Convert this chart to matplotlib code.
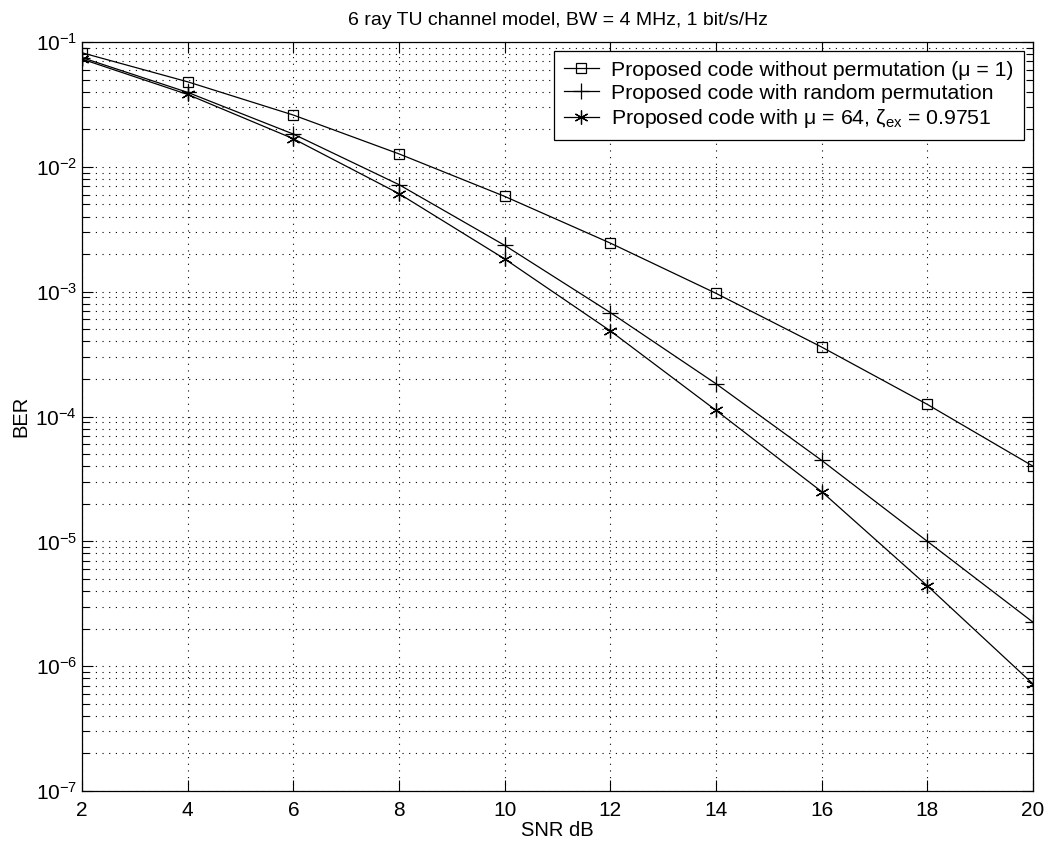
import matplotlib
matplotlib.use('Agg')
import matplotlib.pyplot as plt
from matplotlib.ticker import LogLocator, NullFormatter

plt.rcParams['font.family'] = ['Liberation Sans', 'DejaVu Sans']
plt.rcParams['mathtext.fontset'] = 'custom'
plt.rcParams['mathtext.rm'] = 'Liberation Sans'
plt.rcParams['mathtext.it'] = 'Liberation Sans:italic'

snr = [2, 4, 6, 8, 10, 12, 14, 16, 18, 20]
ber_no_perm = [0.082, 0.048, 0.026, 0.0127, 0.0058, 0.00245, 0.00097, 3.6e-4, 1.25e-4, 4.0e-5]
ber_random = [0.075, 0.0395, 0.0183, 0.0072, 0.00235, 6.8e-4, 1.83e-4, 4.45e-5, 1.0e-5, 2.25e-6]
ber_mu64 = [0.073, 0.038, 0.0168, 0.0061, 0.00183, 4.85e-4, 1.12e-4, 2.5e-5, 4.4e-6, 7.2e-7]
y_ticks = [1e-7, 1e-6, 1e-5, 1e-4, 1e-3, 1e-2, 1e-1]
y_ticklabels = ['$10^{-7}$', '$10^{-6}$', '$10^{-5}$', '$10^{-4}$',
                '$10^{-3}$', '$10^{-2}$', '$10^{-1}$']

labels = ['Proposed code without permutation (μ = 1)',
          'Proposed code with random permutation',
          'Proposed code with μ = 64, ζ$_{\\mathrm{ex}}$ = 0.9751']

fig = plt.figure(figsize=(10.49, 8.56), dpi=100)
ax = fig.add_axes([0.0782, 0.0759, 0.9066, 0.875])

ax.semilogy(snr, ber_no_perm, color='black', lw=0.9, marker='s', ms=7.5,
            mfc='none', mec='black', mew=0.9, label=labels[0])
ax.semilogy(snr, ber_random, color='black', lw=0.9, marker='+', ms=11,
            mew=0.9, label=labels[1])
ax.semilogy(snr, ber_mu64, color='black', lw=0.9, marker=(6, 2, 0), ms=10,
            mew=0.9, label=labels[2])

ax.set_xlim(2, 20)
ax.set_ylim(1e-7, 1e-1)
ax.set_xticks(snr)
ax.set_yticks(y_ticks)
ax.set_yticklabels(y_ticklabels)
ax.yaxis.set_minor_locator(LogLocator(base=10, subs=range(2, 10), numticks=100))
ax.yaxis.set_minor_formatter(NullFormatter())

ax.grid(True, which='major', color='black', linestyle=(0, (1, 5)), lw=0.8)
ax.grid(True, which='minor', axis='y', color='black', linestyle=(0, (1, 5)), lw=0.8)

ax.tick_params(which='both', direction='in', top=True, right=True, labelsize=15)
ax.tick_params(axis='x', pad=7)
ax.tick_params(which='major', length=8, width=0.8)
ax.tick_params(which='minor', length=5, width=0.8)
for s in ax.spines.values():
    s.set_linewidth(0.9)

ax.set_xlabel('SNR dB', fontsize=14.5, labelpad=1)
ax.set_ylabel('BER', fontsize=14.5, labelpad=4)
ax.set_title('6 ray TU channel model, BW = 4 MHz, 1 bit/s/Hz', fontsize=14, pad=12)

leg = ax.legend(loc='upper right', fontsize=15.3, frameon=True, fancybox=False,
                edgecolor='black', framealpha=1, handlelength=1.65,
                borderpad=0.45, labelspacing=0.2, handletextpad=0.6,
                borderaxespad=0, bbox_to_anchor=(0.99, 0.988))
leg.get_frame().set_linewidth(0.9)

fig.savefig('out.png', dpi=100)
